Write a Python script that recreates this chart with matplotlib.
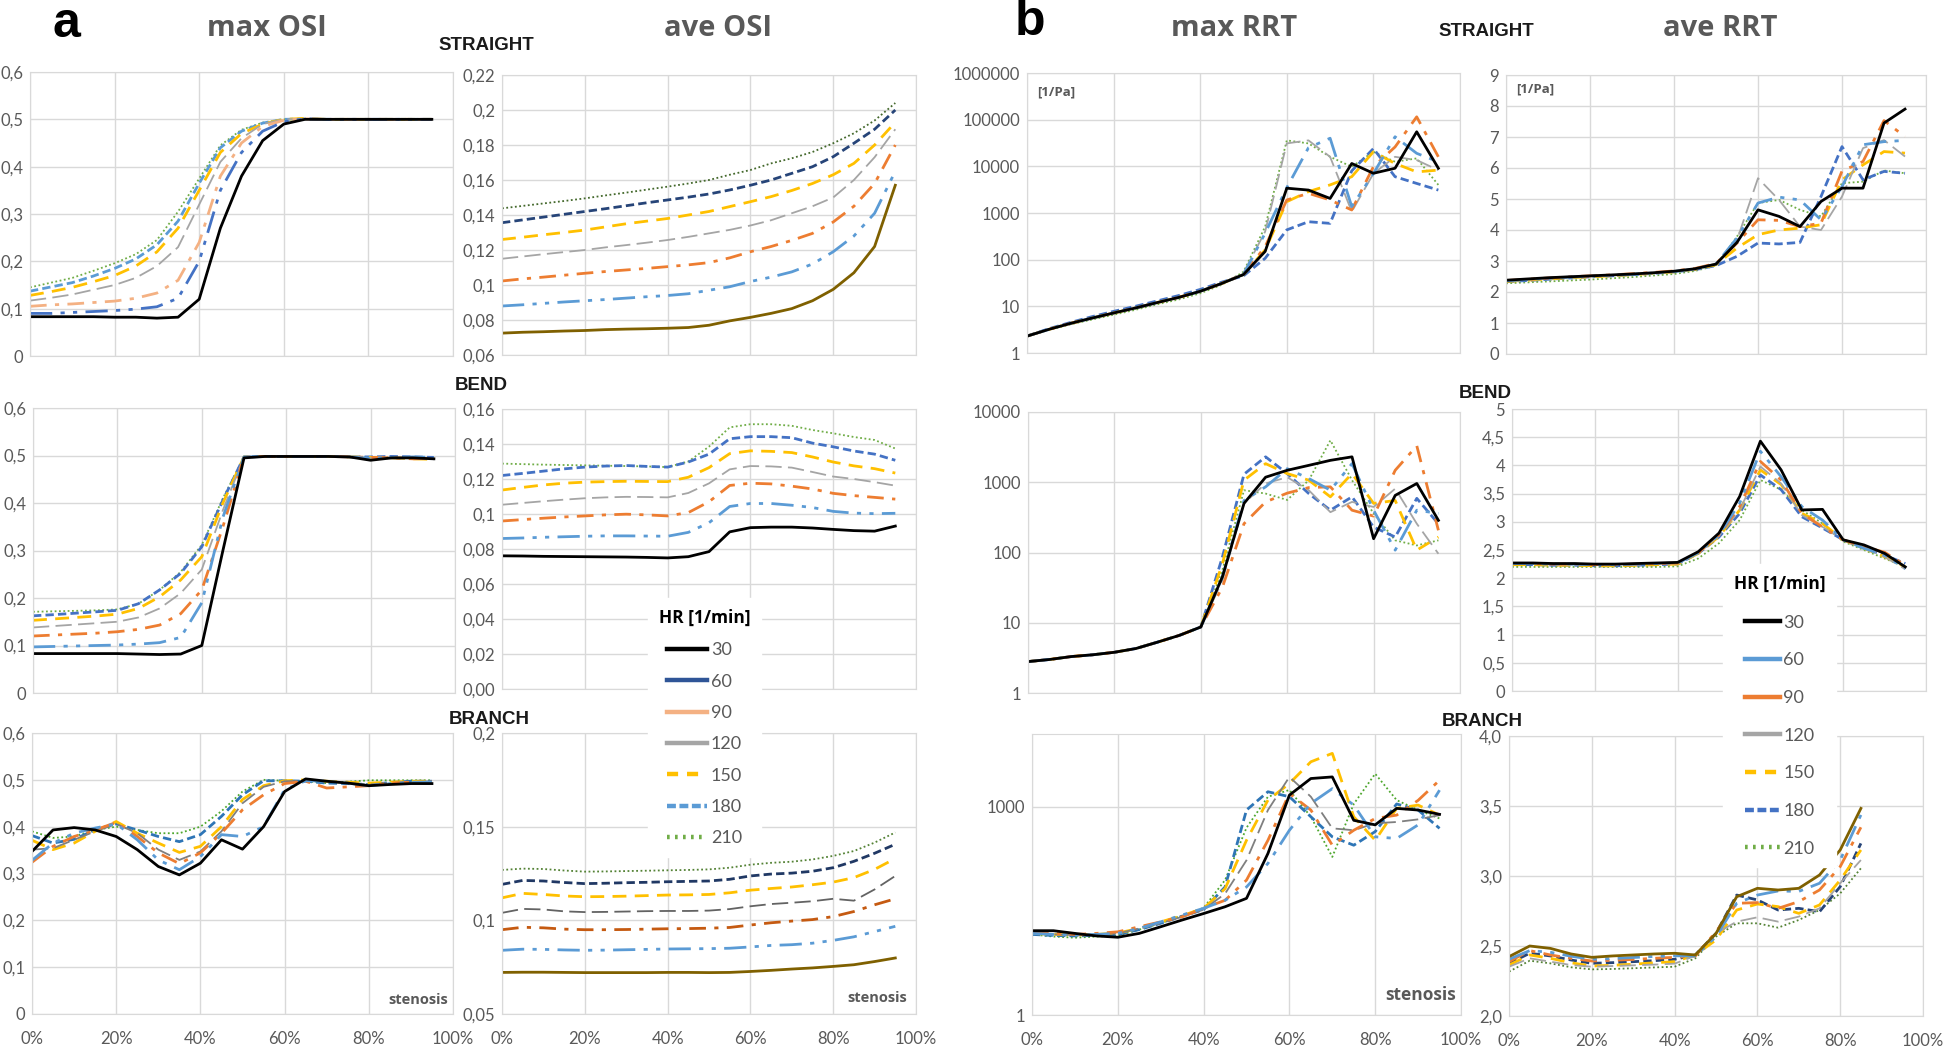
import matplotlib.pyplot as plt
from matplotlib.lines import Line2D
from matplotlib.ticker import NullLocator

# heart rates (legend entries)
HR = ['30', '60', '90', '120', '150', '180', '210']

# stenosis degree [%]
X95 = list(range(0, 96, 5))
X85 = list(range(0, 86, 5))

# ---- OSI, panel a ----
MAX_OSI_STRAIGHT = [
    [0.083, 0.083, 0.083, 0.083, 0.082, 0.082, 0.080, 0.082, 0.12, 0.27, 0.38, 0.455, 0.49, 0.5, 0.5, 0.5, 0.5, 0.5, 0.5, 0.5],
    [0.09, 0.09, 0.092, 0.094, 0.096, 0.099, 0.104, 0.122, 0.2, 0.35, 0.43, 0.475, 0.495, 0.501, 0.5, 0.5, 0.5, 0.5, 0.5, 0.5],
    [0.105, 0.108, 0.11, 0.113, 0.116, 0.122, 0.133, 0.16, 0.24, 0.38, 0.45, 0.485, 0.498, 0.501, 0.5, 0.5, 0.5, 0.5, 0.5, 0.5],
    [0.117, 0.123, 0.13, 0.14, 0.15, 0.165, 0.19, 0.23, 0.32, 0.41, 0.46, 0.49, 0.5, 0.501, 0.5, 0.5, 0.5, 0.5, 0.5, 0.5],
    [0.128, 0.136, 0.145, 0.157, 0.17, 0.19, 0.22, 0.27, 0.35, 0.43, 0.47, 0.49, 0.5, 0.502, 0.5, 0.5, 0.5, 0.5, 0.5, 0.5],
    [0.137, 0.146, 0.155, 0.169, 0.185, 0.205, 0.235, 0.285, 0.365, 0.44, 0.475, 0.492, 0.5, 0.501, 0.5, 0.5, 0.5, 0.5, 0.5, 0.5],
    [0.145, 0.155, 0.165, 0.18, 0.196, 0.215, 0.245, 0.305, 0.375, 0.445, 0.478, 0.493, 0.5, 0.501, 0.5, 0.5, 0.5, 0.5, 0.5, 0.5],
]
AVE_OSI_STRAIGHT = [
    [0.0725, 0.073, 0.0733, 0.0737, 0.074, 0.0745, 0.0748, 0.075, 0.0753, 0.0757, 0.077, 0.0795, 0.0815, 0.0838, 0.0865, 0.091, 0.0975, 0.107, 0.122, 0.157],
    [0.088, 0.0887, 0.0895, 0.0903, 0.091, 0.0917, 0.0925, 0.0933, 0.094, 0.095, 0.097, 0.099, 0.102, 0.1045, 0.1075, 0.112, 0.119, 0.128, 0.141, 0.165],
    [0.1023, 0.1035, 0.1045, 0.1056, 0.1067, 0.1077, 0.1086, 0.1095, 0.1105, 0.1115, 0.1128, 0.1155, 0.119, 0.122, 0.1255, 0.1295, 0.136, 0.145, 0.158, 0.18],
    [0.115, 0.1163, 0.1176, 0.1188, 0.12, 0.1215, 0.1228, 0.1242, 0.1257, 0.1275, 0.1295, 0.1315, 0.134, 0.137, 0.141, 0.145, 0.15, 0.16, 0.173, 0.189],
    [0.126, 0.1273, 0.1287, 0.13, 0.1314, 0.1332, 0.135, 0.1365, 0.138, 0.14, 0.142, 0.1448, 0.1476, 0.1505, 0.154, 0.158, 0.163, 0.1695, 0.18, 0.193],
    [0.1356, 0.1372, 0.1388, 0.1404, 0.142, 0.1436, 0.1453, 0.147, 0.1486, 0.1502, 0.152, 0.1543, 0.157, 0.16, 0.1638, 0.1676, 0.1733, 0.181, 0.189, 0.2],
    [0.1438, 0.1452, 0.1466, 0.148, 0.1495, 0.1512, 0.1528, 0.1545, 0.1562, 0.158, 0.16, 0.163, 0.1657, 0.1695, 0.1724, 0.176, 0.181, 0.1867, 0.194, 0.204],
]
MAX_OSI_BEND = [
    [0.083, 0.083, 0.083, 0.083, 0.083, 0.082, 0.081, 0.082, 0.1, 0.3, 0.495, 0.498, 0.498, 0.498, 0.498, 0.497, 0.49, 0.495, 0.495, 0.493],
    [0.097, 0.098, 0.099, 0.1, 0.101, 0.103, 0.106, 0.117, 0.19, 0.37, 0.497, 0.498, 0.498, 0.498, 0.498, 0.497, 0.494, 0.496, 0.497, 0.496],
    [0.12, 0.122, 0.124, 0.126, 0.129, 0.134, 0.143, 0.167, 0.217, 0.35, 0.497, 0.498, 0.498, 0.498, 0.498, 0.497, 0.496, 0.495, 0.493, 0.494],
    [0.138, 0.141, 0.144, 0.147, 0.15, 0.159, 0.178, 0.21, 0.26, 0.385, 0.497, 0.498, 0.498, 0.498, 0.498, 0.497, 0.495, 0.494, 0.493, 0.492],
    [0.153, 0.156, 0.159, 0.162, 0.166, 0.178, 0.2025, 0.238, 0.287, 0.4, 0.497, 0.498, 0.498, 0.498, 0.498, 0.497, 0.496, 0.495, 0.493, 0.492],
    [0.1625, 0.165, 0.168, 0.171, 0.174, 0.188, 0.217, 0.252, 0.308, 0.406, 0.497, 0.498, 0.498, 0.498, 0.498, 0.497, 0.497, 0.498, 0.497, 0.496],
    [0.171, 0.172, 0.173, 0.174, 0.176, 0.188, 0.217, 0.255, 0.312, 0.41, 0.497, 0.498, 0.498, 0.498, 0.498, 0.497, 0.497, 0.495, 0.494, 0.493],
]
AVE_OSI_BEND = [
    [0.0761, 0.076, 0.0758, 0.0757, 0.0756, 0.0755, 0.0754, 0.0752, 0.0749, 0.0756, 0.0785, 0.0898, 0.0922, 0.0925, 0.0925, 0.092, 0.0912, 0.0905, 0.0902, 0.0931],
    [0.086, 0.0863, 0.0867, 0.087, 0.0873, 0.0875, 0.0875, 0.0874, 0.0873, 0.0895, 0.095, 0.1043, 0.106, 0.106, 0.105, 0.1037, 0.1015, 0.1005, 0.1002, 0.1004],
    [0.096, 0.0968, 0.0976, 0.0983, 0.0989, 0.0995, 0.0999, 0.0995, 0.0989, 0.1008, 0.107, 0.1163, 0.1176, 0.1172, 0.1159, 0.1143, 0.1118, 0.1105, 0.1095, 0.1085],
    [0.1053, 0.1063, 0.1073, 0.1082, 0.109, 0.1095, 0.1098, 0.1097, 0.1095, 0.112, 0.1175, 0.1255, 0.1274, 0.1272, 0.1265, 0.124, 0.1214, 0.12, 0.1182, 0.1162],
    [0.1137, 0.1152, 0.1166, 0.1176, 0.1182, 0.1185, 0.1187, 0.1186, 0.1185, 0.121, 0.1265, 0.1345, 0.1361, 0.1358, 0.1351, 0.1326, 0.1297, 0.1275, 0.1259, 0.1234],
    [0.122, 0.1232, 0.1245, 0.1258, 0.1268, 0.1274, 0.1277, 0.1272, 0.1268, 0.1297, 0.1342, 0.143, 0.1442, 0.1442, 0.1436, 0.1405, 0.1384, 0.136, 0.1342, 0.1307],
    [0.1288, 0.1285, 0.1282, 0.128, 0.1278, 0.1276, 0.1274, 0.1272, 0.1268, 0.13, 0.1385, 0.1495, 0.1513, 0.1513, 0.1504, 0.148, 0.1461, 0.144, 0.1423, 0.1374],
]
MAX_OSI_BRANCH = [
    [0.347, 0.393, 0.398, 0.393, 0.379, 0.351, 0.315, 0.297, 0.322, 0.372, 0.352, 0.4, 0.475, 0.502, 0.497, 0.493, 0.4875, 0.49, 0.492, 0.492],
    [0.328, 0.365, 0.386, 0.397, 0.406, 0.372, 0.329, 0.308, 0.336, 0.383, 0.379, 0.4, 0.479, 0.498, 0.497, 0.493, 0.4875, 0.492, 0.495, 0.495],
    [0.324, 0.358, 0.379, 0.393, 0.409, 0.379, 0.344, 0.321, 0.344, 0.386, 0.436, 0.468, 0.492, 0.497, 0.4825, 0.485, 0.4875, 0.493, 0.495, 0.495],
    [0.351, 0.354, 0.372, 0.39, 0.406, 0.386, 0.351, 0.329, 0.347, 0.39, 0.45, 0.485, 0.497, 0.498, 0.497, 0.493, 0.49, 0.493, 0.495, 0.497],
    [0.371, 0.351, 0.365, 0.39, 0.411, 0.386, 0.365, 0.345, 0.358, 0.4, 0.458, 0.4875, 0.498, 0.5, 0.497, 0.495, 0.493, 0.495, 0.497, 0.497],
    [0.381, 0.365, 0.373, 0.393, 0.406, 0.393, 0.379, 0.368, 0.383, 0.422, 0.468, 0.498, 0.498, 0.497, 0.493, 0.492, 0.49, 0.494, 0.497, 0.497],
    [0.39, 0.376, 0.379, 0.393, 0.4, 0.393, 0.386, 0.386, 0.4, 0.433, 0.475, 0.5, 0.498, 0.497, 0.493, 0.496, 0.499, 0.499, 0.499, 0.499],
]
AVE_OSI_BRANCH = [
    [0.0722, 0.0723, 0.0723, 0.0722, 0.0721, 0.0721, 0.0721, 0.0721, 0.0722, 0.0722, 0.0721, 0.0722, 0.0727, 0.0733, 0.074, 0.0746, 0.0754, 0.0763, 0.078, 0.0799],
    [0.084, 0.0846, 0.0845, 0.0842, 0.084, 0.0841, 0.0843, 0.0845, 0.0847, 0.0848, 0.0849, 0.0851, 0.0858, 0.0866, 0.087, 0.0878, 0.0893, 0.0912, 0.094, 0.0968],
    [0.095, 0.0963, 0.096, 0.0953, 0.095, 0.095, 0.0951, 0.0953, 0.0955, 0.0956, 0.0958, 0.0962, 0.0975, 0.0987, 0.0996, 0.1004, 0.102, 0.1047, 0.1083, 0.1115],
    [0.104, 0.1061, 0.1058, 0.1048, 0.1044, 0.1045, 0.1047, 0.1049, 0.105, 0.105, 0.1052, 0.106, 0.1075, 0.1087, 0.1094, 0.1102, 0.1115, 0.1105, 0.1165, 0.1237],
    [0.112, 0.1144, 0.1138, 0.113, 0.1126, 0.1127, 0.1129, 0.1132, 0.1135, 0.1136, 0.1138, 0.1147, 0.1161, 0.117, 0.1178, 0.119, 0.1204, 0.1228, 0.1272, 0.133],
    [0.1192, 0.1213, 0.121, 0.1202, 0.1196, 0.1198, 0.1201, 0.1203, 0.1206, 0.1208, 0.121, 0.1219, 0.1237, 0.1247, 0.1252, 0.1262, 0.1281, 0.1315, 0.1358, 0.1406],
    [0.1269, 0.1276, 0.1274, 0.1266, 0.126, 0.1261, 0.1263, 0.1265, 0.1267, 0.1269, 0.1272, 0.1281, 0.1297, 0.1307, 0.1313, 0.1325, 0.1344, 0.137, 0.1415, 0.1469],
]

# ---- RRT [1/Pa], panel b ----
MAX_RRT_STRAIGHT = [
    [2.3, 3.2, 4.3, 5.6, 7.2, 9.2, 12, 15.5, 21, 31, 48, 150, 3400, 3100, 2050, 11500, 7100, 9100, 55000, 9100],
    [2.3, 3.2, 4.3, 5.6, 7.2, 9.2, 12, 15.5, 21, 31, 48, 370, 3500, 25000, 40000, 1370, 7000, 43000, 19000, 12500],
    [2.3, 3.2, 4.3, 5.6, 7.2, 9.2, 12, 15.5, 21, 31, 48, 190, 1900, 2640, 1900, 1160, 9800, 26000, 115000, 16000],
    [2.3, 3.2, 4.3, 5.6, 7.2, 9.2, 12, 15.5, 21, 31, 52, 400, 31000, 36000, 16000, 1070, 7000, 16000, 13600, 8300],
    [2.3, 3.2, 4.3, 5.6, 7.2, 9.2, 12, 15.5, 21, 31, 48, 162, 1750, 2870, 4000, 6000, 20500, 11500, 7600, 8300],
    [2.3, 3.3, 4.5, 6.0, 7.8, 10, 13, 17, 23, 33, 45, 107, 435, 650, 600, 8000, 24000, 6000, 4300, 3100],
    [2.3, 3.1, 4.1, 5.2, 6.6, 8.4, 11, 14, 19, 29, 55, 510, 36000, 31000, 16000, 9800, 20500, 12500, 14800, 4000],
]
AVE_RRT_STRAIGHT = [
    [2.38, 2.42, 2.46, 2.49, 2.52, 2.55, 2.58, 2.62, 2.67, 2.75, 2.9, 3.6, 4.65, 4.44, 4.11, 4.92, 5.35, 5.35, 7.45, 7.9],
    [2.36, 2.4, 2.44, 2.48, 2.51, 2.54, 2.57, 2.61, 2.66, 2.74, 2.9, 3.74, 4.87, 5.06, 4.97, 4.33, 5.4, 6.75, 6.85, 6.89],
    [2.37, 2.41, 2.45, 2.49, 2.52, 2.55, 2.59, 2.63, 2.68, 2.76, 2.92, 3.58, 4.33, 4.31, 4.11, 4.22, 5.9, 6.21, 7.53, 7.01],
    [2.35, 2.39, 2.43, 2.47, 2.5, 2.53, 2.56, 2.6, 2.65, 2.74, 2.92, 3.68, 5.67, 4.97, 4.11, 4.0, 5.08, 6.64, 6.9, 6.37],
    [2.34, 2.38, 2.42, 2.46, 2.49, 2.52, 2.56, 2.6, 2.65, 2.73, 2.88, 3.42, 3.85, 4.0, 4.06, 4.17, 5.62, 6.1, 6.53, 6.48],
    [2.33, 2.37, 2.41, 2.45, 2.49, 2.52, 2.56, 2.6, 2.65, 2.72, 2.85, 3.15, 3.58, 3.55, 3.6, 5.08, 6.69, 5.62, 5.89, 5.83],
    [2.28, 2.31, 2.34, 2.37, 2.4, 2.44, 2.48, 2.53, 2.58, 2.68, 2.85, 3.79, 4.87, 4.97, 4.65, 4.44, 5.51, 5.56, 5.92, 5.83],
]
MAX_RRT_BEND = [
    [2.8, 3.0, 3.3, 3.5, 3.8, 4.3, 5.3, 6.6, 8.7, 45, 500, 1180, 1480, 1740, 2050, 2300, 157, 650, 960, 287],
    [2.8, 3.0, 3.3, 3.5, 3.8, 4.3, 5.3, 6.6, 8.7, 45, 550, 860, 1560, 1130, 770, 1840, 400, 108, 400, 360],
    [2.8, 3.0, 3.3, 3.5, 3.8, 4.3, 5.3, 6.6, 8.7, 32, 257, 525, 700, 840, 860, 400, 330, 1480, 3300, 207],
    [2.8, 3.0, 3.3, 3.5, 3.8, 4.3, 5.3, 6.6, 8.7, 40, 500, 960, 1180, 770, 375, 525, 445, 810, 257, 96],
    [2.8, 3.0, 3.3, 3.5, 3.8, 4.3, 5.3, 6.6, 8.7, 69, 1070, 1840, 1330, 1070, 620, 1330, 500, 550, 108, 166],
    [2.8, 3.0, 3.3, 3.5, 3.8, 4.3, 5.3, 6.6, 8.7, 86, 1300, 2300, 1330, 690, 400, 620, 230, 166, 590, 256],
    [2.8, 3.0, 3.3, 3.5, 3.8, 4.3, 5.3, 6.6, 8.7, 56, 770, 690, 560, 1070, 3950, 1070, 360, 149, 126, 149],
]
AVE_RRT_BEND = [
    [2.27, 2.27, 2.26, 2.26, 2.25, 2.25, 2.26, 2.27, 2.28, 2.47, 2.8, 3.45, 4.43, 3.92, 3.21, 3.22, 2.68, 2.59, 2.44, 2.2],
    [2.26, 2.26, 2.25, 2.25, 2.24, 2.24, 2.25, 2.26, 2.27, 2.45, 2.77, 3.33, 4.25, 3.8, 3.27, 3.03, 2.68, 2.53, 2.41, 2.17],
    [2.26, 2.26, 2.25, 2.25, 2.24, 2.24, 2.25, 2.26, 2.27, 2.45, 2.77, 3.27, 4.07, 3.74, 3.15, 2.91, 2.68, 2.56, 2.46, 2.23],
    [2.25, 2.25, 2.24, 2.24, 2.23, 2.23, 2.24, 2.25, 2.26, 2.45, 2.75, 3.21, 3.98, 3.68, 3.12, 2.91, 2.68, 2.53, 2.38, 2.16],
    [2.24, 2.24, 2.23, 2.23, 2.22, 2.22, 2.23, 2.24, 2.25, 2.44, 2.74, 3.21, 3.92, 3.66, 3.15, 2.97, 2.68, 2.53, 2.38, 2.2],
    [2.24, 2.24, 2.23, 2.23, 2.22, 2.22, 2.23, 2.24, 2.25, 2.44, 2.73, 3.15, 3.83, 3.57, 3.09, 2.89, 2.68, 2.53, 2.41, 2.26],
    [2.2, 2.2, 2.2, 2.2, 2.2, 2.2, 2.2, 2.2, 2.21, 2.35, 2.62, 3.03, 3.74, 3.57, 3.21, 2.97, 2.65, 2.5, 2.35, 2.2],
]
MAX_RRT_BRANCH = [
    [16.4, 16.4, 15, 13.8, 13.2, 15, 18.7, 23.4, 29, 36.3, 48, 213, 1475, 2560, 2700, 640, 550, 950, 900, 780],
    [15, 14.5, 14.2, 14.5, 15, 17.7, 22, 27.6, 34.5, 45, 70, 153, 460, 1120, 1830, 1060, 370, 350, 550, 1740],
    [15.8, 15, 14.5, 15, 15.8, 18.7, 22, 26, 34.5, 45, 88, 330, 1560, 900, 280, 460, 680, 760, 1240, 2420],
    [15, 14.5, 14.2, 14.5, 15, 17.7, 21, 26, 33, 56, 170, 900, 2700, 1400, 490, 460, 580, 605, 660, 760],
    [15, 14.5, 14.2, 14.5, 15.2, 17.7, 22, 27, 34.5, 66, 330, 1250, 2170, 4460, 5900, 720, 330, 950, 1060, 760],
    [14.5, 14, 13.8, 14, 14.5, 17, 21, 26.5, 33, 70, 900, 1650, 1400, 720, 370, 280, 440, 1100, 900, 490],
    [14.5, 13.5, 13, 13.5, 14, 17, 21, 27, 35, 88, 500, 1400, 1750, 720, 190, 1100, 3000, 1250, 900, 680],
]
AVE_RRT_BRANCH = [
    [2.424, 2.5, 2.483, 2.443, 2.419, 2.429, 2.436, 2.443, 2.448, 2.436, 2.59, 2.852, 2.912, 2.9, 2.912, 3.007, 3.186, 3.483],
    [2.405, 2.467, 2.455, 2.427, 2.405, 2.41, 2.418, 2.425, 2.43, 2.428, 2.567, 2.805, 2.864, 2.893, 2.89, 2.948, 3.114, 3.436],
    [2.388, 2.467, 2.436, 2.412, 2.393, 2.398, 2.404, 2.412, 2.419, 2.428, 2.602, 2.805, 2.81, 2.769, 2.817, 2.9, 3.067, 3.348],
    [2.352, 2.412, 2.388, 2.364, 2.352, 2.357, 2.362, 2.367, 2.374, 2.43, 2.59, 2.674, 2.705, 2.674, 2.71, 2.769, 2.948, 3.114],
    [2.364, 2.436, 2.412, 2.38, 2.357, 2.362, 2.37, 2.38, 2.388, 2.436, 2.543, 2.757, 2.8, 2.781, 2.733, 2.793, 2.971, 3.186],
    [2.376, 2.448, 2.429, 2.4, 2.376, 2.381, 2.388, 2.395, 2.405, 2.436, 2.59, 2.864, 2.829, 2.757, 2.769, 2.745, 2.924, 3.233],
    [2.317, 2.395, 2.376, 2.348, 2.333, 2.336, 2.341, 2.347, 2.352, 2.412, 2.567, 2.662, 2.662, 2.631, 2.686, 2.757, 2.876, 3.055],
]

# y ticks
OSI_TICKS = [0, 0.1, 0.2, 0.3, 0.4, 0.5, 0.6]
OSI_LABELS = ['0', '0,1', '0,2', '0,3', '0,4', '0,5', '0,6']
AVE_S_TICKS = [0.06, 0.08, 0.10, 0.12, 0.14, 0.16, 0.18, 0.20, 0.22]
AVE_S_LABELS = ['0,06', '0,08', '0,1', '0,12', '0,14', '0,16', '0,18', '0,2', '0,22']
AVE_BE_TICKS = [0, 0.02, 0.04, 0.06, 0.08, 0.10, 0.12, 0.14, 0.16]
AVE_BE_LABELS = ['0,00', '0,02', '0,04', '0,06', '0,08', '0,1', '0,12', '0,14', '0,16']
AVE_BR_TICKS = [0.05, 0.1, 0.15, 0.2]
AVE_BR_LABELS = ['0,05', '0,1', '0,15', '0,2']
RRT_S_TICKS = [1, 10, 100, 1000, 10000, 100000, 1000000]
RRT_S_LABELS = ['1', '10', '100', '1000', '10000', '100000', '1000000']
RRT_BE_TICKS = [1, 10, 100, 1000, 10000]
RRT_BE_LABELS = ['1', '10', '100', '1000', '10000']
RRT_BR_TICKS = [1, 1000]
RRT_BR_LABELS = ['1', '1000']
AVE_RRT_S_TICKS = list(range(10))
AVE_RRT_S_LABELS = [str(v) for v in range(10)]
AVE_RRT_BE_TICKS = [0, 0.5, 1, 1.5, 2, 2.5, 3, 3.5, 4, 4.5, 5]
AVE_RRT_BE_LABELS = ['0', '0,5', '1', '1,5', '2', '2,5', '3', '3,5', '4', '4,5', '5']
AVE_RRT_BR_TICKS = [2.0, 2.5, 3.0, 3.5, 4.0]
AVE_RRT_BR_LABELS = ['2,0', '2,5', '3,0', '3,5', '4,0']
X_TICKS = [0, 20, 40, 60, 80, 100]
X_LABELS = ['0%', '20%', '40%', '60%', '80%', '100%']

# line styles per heart rate
STYLES = ['-', (0, (8, 3, 1.5, 3, 1.5, 3)), (0, (6, 3, 1.5, 3)), (0, (9, 3.5)),
          (0, (5, 3)), (0, (3, 1.5)), (0, (1, 1.4))]
COL_STD = ['#000000', '#5B9BD5', '#ED7D31', '#A5A5A5', '#FFC000', '#4472C4', '#70AD47']
COL_MAXS = ['#000000', '#4472C4', '#F4B183', '#A5A5A5', '#FFC000', '#5B9BD5', '#70AD47']
COL_AVES = ['#7F6000', '#5B9BD5', '#ED7D31', '#A5A5A5', '#FFC000', '#264478', '#43682B']
COL_BR = ['#000000', '#5B9BD5', '#ED7D31', '#7F7F7F', '#FFC000', '#2E75B6', '#4EA72E']
COL_AVEBR = ['#7F6000', '#5B9BD5', '#C55A11', '#636363', '#FFC000', '#203864', '#548235']
COL_RRTBR = ['#7F6000', '#5B9BD5', '#ED7D31', '#A5A5A5', '#FFC000', '#264478', '#548235']

GRID = '#D9D9D9'
TXT = '#595959'
W, H = 1946, 1048


def box(x0, y0, x1, y1):
    return [x0 / W, 1 - y1 / H, (x1 - x0) / W, (y1 - y0) / H]


fig = plt.figure(figsize=(W / 100, H / 100), dpi=100)


def panel(pos, x, series, colors, ticks, labels, ylim, log=False, xlab=False):
    ax = fig.add_axes(box(*pos))
    for i in reversed(range(len(series))):
        lw = 1.3 if i in (3, 6) else 2.0
        ax.plot(x, series[i], color=colors[i], ls=STYLES[i], lw=lw)
    if log:
        ax.set_yscale('log')
    ax.set_xlim(0, 100)
    ax.set_ylim(*ylim)
    ax.set_yticks(ticks)
    ax.set_yticklabels(labels)
    ax.yaxis.set_minor_locator(NullLocator())
    ax.set_xticks(X_TICKS)
    ax.set_xticklabels(X_LABELS if xlab else [])
    ax.grid(True, color=GRID, lw=1.0)
    ax.set_axisbelow(True)
    for s in ax.spines.values():
        s.set_color(GRID)
    ax.tick_params(length=0, labelsize=12, colors=TXT)
    ax.tick_params(axis='y', pad=5)
    ax.tick_params(axis='x', pad=12)
    for t in ax.get_xticklabels() + ax.get_yticklabels():
        t.set_family('Lato')
    return ax


panel((30, 72, 453, 356), X95, MAX_OSI_STRAIGHT, COL_MAXS, OSI_TICKS, OSI_LABELS, (0, 0.6))
panel((502, 75, 916, 355), X95, AVE_OSI_STRAIGHT, COL_AVES, AVE_S_TICKS, AVE_S_LABELS, (0.06, 0.22))
panel((33, 408, 455, 693), X95, MAX_OSI_BEND, COL_STD, OSI_TICKS, OSI_LABELS, (0, 0.6))
panel((502, 409, 916, 689), X95, AVE_OSI_BEND, COL_STD, AVE_BE_TICKS, AVE_BE_LABELS, (0, 0.16))
panel((32, 733, 453, 1014), X95, MAX_OSI_BRANCH, COL_BR, OSI_TICKS, OSI_LABELS, (0, 0.6), xlab=True)
panel((502, 733, 916, 1014), X95, AVE_OSI_BRANCH, COL_AVEBR, AVE_BR_TICKS, AVE_BR_LABELS, (0.05, 0.2), xlab=True)

panel((1027, 73, 1460, 353), X95, MAX_RRT_STRAIGHT, COL_STD, RRT_S_TICKS, RRT_S_LABELS, (1, 1e6), log=True)
panel((1506, 75, 1926, 354), X95, AVE_RRT_STRAIGHT, COL_STD, AVE_RRT_S_TICKS, AVE_RRT_S_LABELS, (0, 9))
panel((1028, 412, 1460, 693), X95, MAX_RRT_BEND, COL_STD, RRT_BE_TICKS, RRT_BE_LABELS, (1, 1e4), log=True)
panel((1512, 409, 1926, 691), X95, AVE_RRT_BEND, COL_STD, AVE_RRT_BE_TICKS, AVE_RRT_BE_LABELS, (0, 5))
panel((1032, 734, 1461, 1015), X95, MAX_RRT_BRANCH, COL_BR, RRT_BR_TICKS, RRT_BR_LABELS, (1, 10 ** 4.05), log=True, xlab=True)
panel((1509, 736, 1923, 1016), X85, AVE_RRT_BRANCH, COL_RRTBR, AVE_RRT_BR_TICKS, AVE_RRT_BR_LABELS, (2, 4), xlab=True)


def ftext(x, y, s, **kw):
    fig.text(x / W, 1 - y / H, s, ha='center', va='center', **kw)


# headings
ftext(66, 24, 'a', fontsize=36, weight='bold', family='Liberation Sans')
ftext(1030, 22, 'b', fontsize=36, weight='bold', family='Liberation Sans')
for x, s in [(267, 'max OSI'), (718, 'ave OSI'), (1234, 'max RRT'), (1720, 'ave RRT')]:
    ftext(x, 28, s, fontsize=21, weight='bold', color=TXT, family='Open Sans')
for x, y, s in [(486, 46, 'STRAIGHT'), (481, 385, 'BEND'), (489, 720, 'BRANCH'),
                (1486, 32, 'STRAIGHT'), (1485, 393, 'BEND'), (1482, 722, 'BRANCH')]:
    ftext(x, y, s, fontsize=13.5, weight='bold', color='#1a1a1a', family='Liberation Sans')
ftext(1056, 92, '[1/Pa]', fontsize=9.5, weight='bold', color=TXT, family='Open Sans')
ftext(1535, 89, '[1/Pa]', fontsize=9.5, weight='bold', color=TXT, family='Open Sans')
ftext(418, 1000, 'stenosis', fontsize=10.5, weight='bold', color=TXT, family='Open Sans')
ftext(877, 998, 'stenosis', fontsize=10.5, weight='bold', color=TXT, family='Open Sans')
ftext(1421, 995, 'stenosis', fontsize=12.5, weight='bold', color=TXT, family='Open Sans')

# legends
LEG_A_COLORS = ['#000000', '#2F5597', '#F4B183', '#A5A5A5', '#FFC000', '#5B9BD5', '#70AD47']
LEG_B_COLORS = ['#000000', '#5B9BD5', '#ED7D31', '#A5A5A5', '#FFC000', '#4472C4', '#70AD47']
LEG_STYLES = ['-', '-', '-', '-', (0, (2.5, 2)), (0, (2, 0.8)), (0, (0.6, 1.2))]


def legend(colors, x, y, spacing, hlen):
    handles = [Line2D([], [], color=c, ls=s, lw=3.2) for c, s in zip(colors, LEG_STYLES)]
    lg = fig.legend(handles, HR, loc='upper left', bbox_to_anchor=(x / W, 1 - y / H),
                    title='HR [1/min]', frameon=True, fancybox=False, framealpha=1,
                    edgecolor='white', facecolor='white', labelspacing=spacing,
                    handlelength=hlen, handletextpad=0.2, borderpad=0.6,
                    prop={'family': 'Lato', 'size': 13},
                    title_fontproperties={'family': 'Open Sans', 'weight': 'bold', 'size': 12.5})
    for t in lg.get_texts():
        t.set_color(TXT)
    return lg


legend(LEG_A_COLORS, 639, 589, 0.85, 2.2)
legend(LEG_B_COLORS, 1714, 555, 1.2, 1.95)

fig.savefig('out.png', dpi=100)
